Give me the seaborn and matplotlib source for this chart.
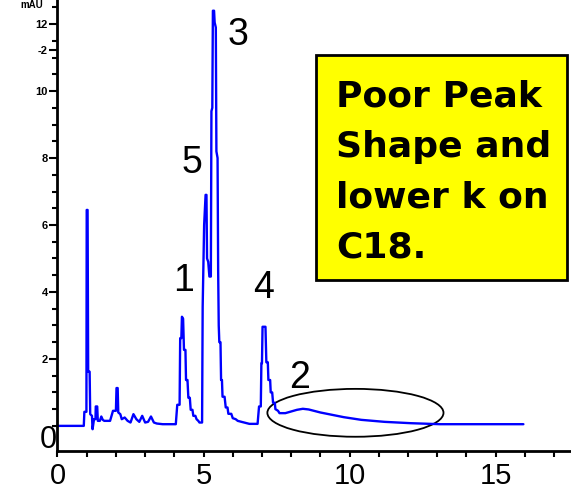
import pandas as pd
import matplotlib
matplotlib.use("Agg")
import matplotlib.pyplot as plt
from matplotlib.patches import Ellipse, Rectangle
import seaborn as sns

# Chromatogram trace (minutes, mAU)
time_min = [0.0, 0.9, 0.92, 0.99, 1.0, 1.03, 1.05, 1.1, 1.12, 1.18, 1.2, 1.25, 1.3, 1.31, 1.36, 1.38,
            1.45, 1.5, 1.55, 1.6, 1.8, 1.9, 2.0, 2.02, 2.06, 2.08, 2.15, 2.2, 2.3, 2.4, 2.5, 2.6,
            2.7, 2.8, 2.9, 3.0, 3.1, 3.2, 3.3, 3.4, 3.6, 4.05, 4.1, 4.18, 4.2, 4.24, 4.26, 4.3,
            4.33, 4.38, 4.4, 4.45, 4.48, 4.53, 4.56, 4.62, 4.65, 4.72, 4.76, 4.82, 4.86, 4.95,
            4.97, 5.02, 5.07, 5.1, 5.12, 5.16, 5.2, 5.25, 5.27, 5.3, 5.32, 5.36, 5.38, 5.42,
            5.44, 5.48, 5.5, 5.52, 5.54, 5.58, 5.6, 5.63, 5.65, 5.72, 5.76, 5.82, 5.85, 5.95,
            6.0, 6.1, 6.17, 6.3, 6.57, 6.85, 6.9, 6.96, 6.98, 7.0, 7.02, 7.12, 7.15, 7.2, 7.22,
            7.28, 7.3, 7.35, 7.38, 7.44, 7.46, 7.55, 7.6, 7.8, 8.0, 8.2, 8.4, 8.6, 9.0, 9.4,
            9.8, 10.4, 11.2, 12.1, 13.1, 15.95]
signal_mau = [0.0, 0.0, 0.42, 0.42, 6.45, 6.45, 1.62, 1.62, 0.35, 0.3, -0.1, 0.2, 0.2, 0.58, 0.58, 0.15,
              0.15, 0.28, 0.18, 0.15, 0.15, 0.45, 0.45, 1.13, 1.13, 0.4, 0.35, 0.2, 0.25, 0.15, 0.1, 0.35,
              0.2, 0.12, 0.3, 0.1, 0.12, 0.28, 0.1, 0.07, 0.05, 0.05, 0.63, 0.63, 2.62, 2.62, 3.26, 3.2,
              2.27, 2.27, 1.37, 1.37, 0.84, 0.84, 0.48, 0.48, 0.3, 0.3, 0.2, 0.15, 0.1, 0.1,
              3.56, 6.0, 6.9, 6.9, 5.0, 4.9, 4.46, 4.46, 9.4, 9.5, 12.4, 12.4, 12.05, 11.9,
              8.2, 8.0, 4.65, 3.0, 2.5, 2.5, 1.37, 1.37, 0.87, 0.87, 0.55, 0.55, 0.36, 0.36,
              0.23, 0.2, 0.15, 0.12, 0.06, 0.06, 0.58, 0.58, 1.87, 1.87, 2.96, 2.96, 1.9, 1.9, 1.37,
              1.37, 1.0, 1.0, 0.69, 0.69, 0.5, 0.45, 0.38, 0.38, 0.43, 0.48, 0.51, 0.49, 0.4, 0.33,
              0.26, 0.18, 0.12, 0.08, 0.05, 0.05]

# peak numbers and where they are written
peak_labels = ["1", "5", "3", "4", "2"]
peak_x = [4.3, 4.61, 6.18, 7.07, 8.3]
peak_y = [4.33, 7.85, 11.67, 4.12, 1.43]

x_ticks = [0, 5, 10, 15]
y_ticks = [2, 4, 6, 8, 10, 11.23, 12]
y_tick_labels = ["2", "4", "6", "8", "10", "-2", "12"]

box_lines = ["Poor Peak", "Shape and", "lower k on", "C18."]

df = pd.DataFrame({"time": time_min, "signal": signal_mau})

sns.set_style("ticks")
plt.rcParams["font.family"] = ["Liberation Sans", "DejaVu Sans"]
plt.rcParams["text.color"] = "black"
plt.rcParams["xtick.color"] = "black"
plt.rcParams["ytick.color"] = "black"

fig = plt.figure(figsize=(5.71, 4.91), dpi=100)
ax = fig.add_axes([0.1007, 0.0815, 0.8993, 0.9185])

sns.lineplot(data=df, x="time", y="signal", sort=False, estimator=None,
             color="#0000ff", linewidth=1.7, ax=ax)

ax.set_xlim(0, 17.58)
ax.set_ylim(-0.75, 12.72)
ax.set_xlabel("")
ax.set_ylabel("")

ax.set_xticks(x_ticks)
ax.set_xticklabels([str(v) for v in x_ticks], fontsize=21)
ax.set_xticks(range(0, 18), minor=True)
ax.set_yticks(y_ticks)
ax.set_yticklabels(y_tick_labels, fontsize=8, fontweight="bold")
ax.set_yticks([v * 0.5 for v in range(0, 26)], minor=True)
ax.tick_params(axis="x", which="both", direction="out", length=4, width=1.5, pad=4)
ax.tick_params(axis="y", which="major", direction="out", length=6, width=1.5, pad=1)
ax.tick_params(axis="y", which="minor", direction="out", length=3.5, width=1.5)

for side in ["top", "right"]:
    ax.spines[side].set_visible(False)
for side in ["left", "bottom"]:
    ax.spines[side].set_linewidth(2)
    ax.spines[side].set_color("black")

# big zero at the bottom of the y axis and the unit label at the top
ax.text(-0.31, -0.42, "0", fontsize=22, ha="center", va="center", clip_on=False)
fig.text(0.055, 0.999, "mAU", fontsize=7, fontweight="bold", ha="center", va="top")

for lab, px, py in zip(peak_labels, peak_x, peak_y):
    ax.text(px, py, lab, fontsize=27, ha="center", va="center")

ax.add_patch(Ellipse((10.2, 0.39), 6.03, 1.43, fill=False, edgecolor="black", linewidth=1.3))

# yellow comment box, placed in axes fractions
bx0, by0, bw, bh = 0.503, 0.379, 0.489, 0.499
ax.add_patch(Rectangle((bx0, by0), bw, bh, transform=ax.transAxes,
                       facecolor="#ffff00", edgecolor="black", linewidth=2, zorder=3))
for i, line in enumerate(box_lines):
    ax.text(0.542, 0.763 - i * 0.111, line, transform=ax.transAxes, fontsize=26,
            fontweight="bold", family=["DejaVu Sans"], ha="left", va="baseline", zorder=4)

fig.savefig("out.png", dpi=100)
